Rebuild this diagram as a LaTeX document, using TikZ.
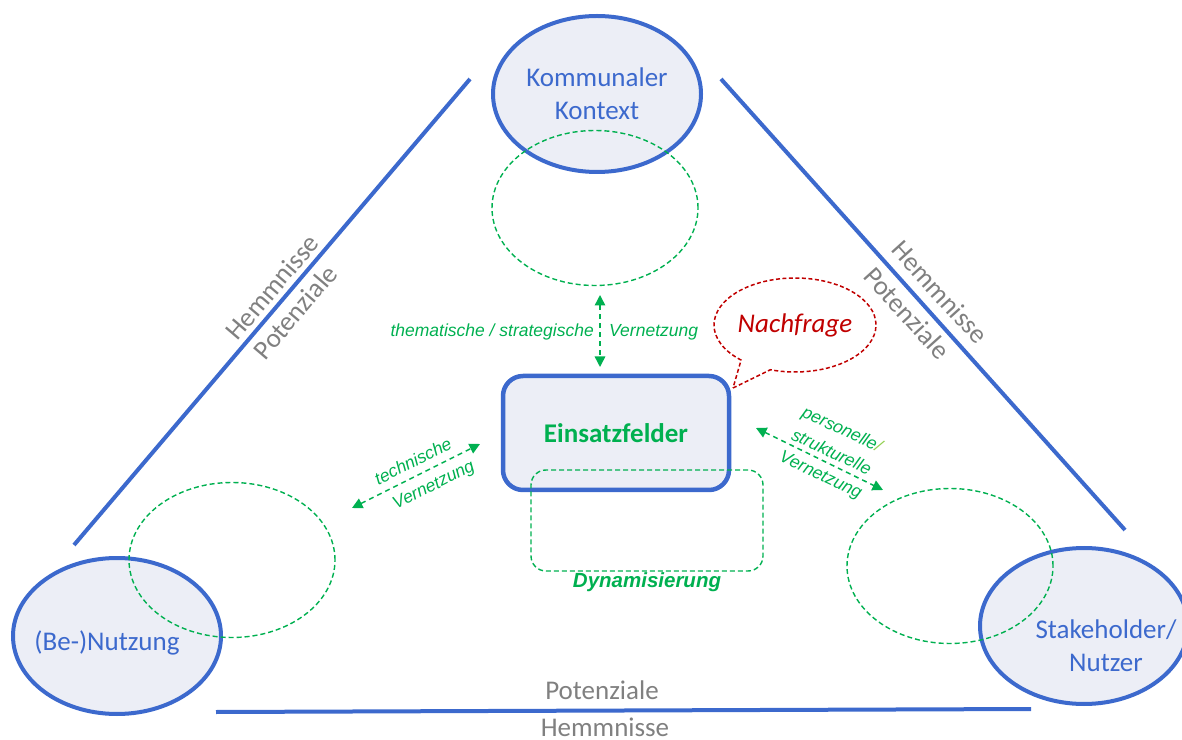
\documentclass[tikz,border=0pt]{standalone}
\usepackage{fontspec}
\setmainfont{Carlito}
\newfontfamily\arialfont{Liberation Sans}
\usepackage{xcolor}
\usepackage{tikz}
\usetikzlibrary{positioning, shapes.geometric, shapes.callouts}
\usetikzlibrary{arrows.meta}
\definecolor{frameblue}{HTML}{3C69CD}
\definecolor{softfill}{HTML}{ECEEF6}
\definecolor{linkgreen}{HTML}{00B050}
\definecolor{palegreen}{HTML}{92D050}
\definecolor{askred}{HTML}{C00000}
\definecolor{hintgray}{HTML}{808080}

\begin{document}
\begin{tikzpicture}[x=1pt, y=1pt, area/.style={ellipse, draw=frameblue, fill=softfill, line width=4pt, minimum width=208pt, minimum height=156pt, inner sep=0pt}, zone/.style={ellipse, draw=linkgreen, dash pattern=on 5pt off 3pt, line width=1.4pt, minimum width=206pt, minimum height=155pt}, side/.style={draw=frameblue, line width=4pt}, big/.style={text=frameblue, align=center, font=\fontsize{27}{33}\selectfont}, hint/.style={text=hintgray, font=\fontsize{27}{33}\selectfont}, link/.style={linkgreen, line width=1.5pt, dash pattern=on 5pt off 4pt, {Triangle[width=10.5pt,length=10.5pt]}-{Triangle[width=10.5pt,length=10.5pt]}}, tag/.style={text=linkgreen, inner sep=0pt, align=center, font=\arialfont\itshape\fontsize{17.5}{25}\selectfont}]
\useasboundingbox (0,0) rectangle (1182,739);

% the three corners
\node[area, big] (kontext) at (597,645) {Kommunaler\\Kontext};
\node[area] (nutzung) at (117,103) {};
\node[big] (nutzungtext) at (107,96) {(Be-)Nutzung};
\node[area] (stake) at (1084,113) {};
\node[big] (staketext) at (1106,93) {Stakeholder/\\Nutzer};

% centre
\node[draw=frameblue, fill=softfill, line width=4.5pt, rounded corners=20pt, minimum width=226pt, minimum height=114pt, text=linkgreen, font=\bfseries\fontsize{27}{33}\selectfont] (einsatz) at (616,306) {Einsatzfelder};
\node[draw=linkgreen, dash pattern=on 5pt off 3pt, line width=1.4pt, rounded corners=15pt, minimum width=232pt, minimum height=101pt] (dynamik) at (647,218.5) {};
\node[tag, font=\arialfont\bfseries\itshape\fontsize{20.5}{25}\selectfont, below=1pt of dynamik.south] (dyntext) {Dynamisierung};

\node[zone] (zkontext) at (595,531) {};
\node[zone] (znutzung) at (232,179) {};
\node[zone] (zstake) at (950,173) {};

% sides of the triangle
\coordinate (l1) at (74,194);
\coordinate (l2) at (470,660);
\coordinate (r1) at (721,660);
\coordinate (r2) at (1125,209);
\coordinate (b1) at (216,27);
\coordinate (b2) at (1031,30);
\draw[side] (l1) -- (l2);
\draw[side] (r1) -- (r2);
\draw[side] (b1) -- (b2);
\node[hint, rotate=49.6] (lh) at (272,452) {Hemmnisse};
\node[hint, rotate=49.6] (lp) at (295,427) {Potenziale};
\node[hint, rotate=-47.9] (rh) at (940,447) {Hemmnisse};
\node[hint, rotate=-47.9] (rp) at (907,426) {Potenziale};
\node[hint] (bp) at (602,49) {Potenziale};
\node[hint] (bh) at (605,12) {Hemmnisse};

% Vernetzung
\coordinate (t1) at (600,444);
\coordinate (t2) at (600,372);
\coordinate (n1) at (352,231);
\coordinate (n2) at (480,295);
\coordinate (s1) at (756,311);
\coordinate (s2) at (883,249);
\draw[link] (t1) -- (t2);
\draw[link] (n1) -- (n2);
\draw[link] (s1) -- (s2);
\node[tag, anchor=base east] (ttag) at (594,402) {thematische / strategische};
\node[tag, anchor=base west] (ttag2) at (609,402) {Vernetzung};
\node[tag, rotate=26.6] (ntag) at (413,278) {technische};
\node[tag, rotate=26.6] (ntag2) at (434,253) {Vernetzung};
\node[tag, rotate=-25] (stag) at (831,286) {personelle{\color{palegreen}/}\\strukturelle\\Vernetzung};

% Nachfrage
\node[ellipse callout, draw=askred, dash pattern=on 4pt off 2.5pt, line width=1.5pt, minimum width=140pt, minimum height=94pt, inner sep=0pt, callout absolute pointer={(733,351)}, callout pointer arc=24, text=askred, font=\itshape\fontsize{27}{33}\selectfont] (nachfrage) at (795,414) {Nachfrage};
\end{tikzpicture}
\end{document}
